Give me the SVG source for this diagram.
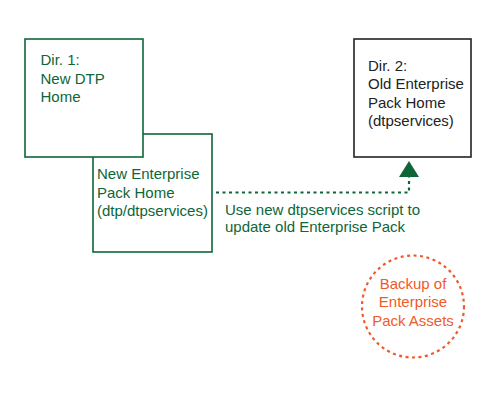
<svg xmlns="http://www.w3.org/2000/svg" width="500" height="400" viewBox="0 0 500 400">
<style>
.g{fill:#ffffff;stroke:#0d6638;stroke-width:1.6}
.k{fill:#ffffff;stroke:#222222;stroke-width:1.6}
text{font-family:"Liberation Sans",Arial,sans-serif;font-size:15px}
.tg{fill:#0d6638}
.tk{fill:#222222}
.to{fill:#f05a28;text-anchor:middle}
.dash{fill:none;stroke:#0d6638;stroke-width:2.2;stroke-dasharray:3,3.5}
</style>
<rect width="500" height="400" fill="#ffffff"/>
<g id="node-new-ep">
<rect class="g" x="93" y="134" width="119" height="118"/>
</g>
<g id="node-dir1">
<rect class="g" x="25" y="39" width="118" height="118"/>
<text class="tg" x="40.5" y="65">Dir. 1:</text>
<text class="tg" x="40.5" y="83.5">New DTP</text>
<text class="tg" x="40.5" y="102">Home</text>
</g>
<g id="node-new-ep-label">
<text class="tg" x="97" y="179">New Enterprise</text>
<text class="tg" x="97" y="197.5">Pack Home</text>
<text class="tg" x="97" y="216">(dtp/dtpservices)</text>
</g>
<g id="node-dir2">
<rect class="k" x="354" y="39" width="117" height="118"/>
<text class="tk" x="368" y="70.5">Dir. 2:</text>
<text class="tk" x="368" y="89">Old Enterprise</text>
<text class="tk" x="368" y="107.5">Pack Home</text>
<text class="tk" x="368" y="126">(dtpservices)</text>
</g>
<g id="node-backup">
<circle cx="413" cy="306.5" r="51" fill="none" stroke="#f05a28" stroke-width="2.2" stroke-dasharray="3,3.5"/>
<text class="to" x="413" y="288.5">Backup of</text>
<text class="to" x="413" y="307">Enterprise</text>
<text class="to" x="413" y="325.5">Pack Assets</text>
</g>
<g id="connectors">
<path class="dash" d="M216,192.5 H409 V177"/>
<polygon points="409,161 399,177 419,177" fill="#0d6638"/>
<text class="tg" x="225" y="214.5">Use new dtpservices script to</text>
<text class="tg" x="225" y="232">update old Enterprise Pack</text>
</g>
</svg>
